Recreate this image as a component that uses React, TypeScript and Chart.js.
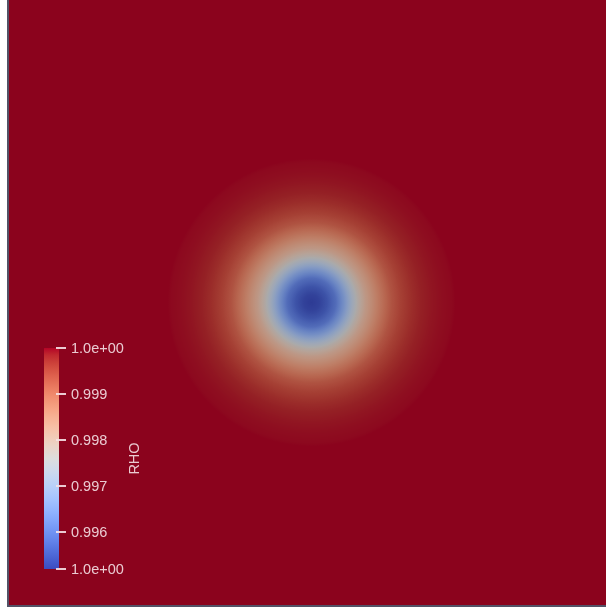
import React, { useEffect, useRef } from "react";
import { Chart, registerables } from "chart.js";

Chart.register(...registerables);

// ---- Data ----
const vortexCenterX = 0.5;
const vortexCenterY = 0.5;
// radial distance from vortex centre (domain units) and density there
const profileRadius = [0, 0.013, 0.026, 0.04, 0.053, 0.066, 0.076, 0.089, 0.103, 0.116, 0.132, 0.149, 0.166, 0.182, 0.199, 0.215, 0.232, 0.238];
const profileRho = [0.9952, 0.9953, 0.99554, 0.99592, 0.99654, 0.99722, 0.9977, 0.99818, 0.99856, 0.9989, 0.99928, 0.99954, 0.99972, 0.99984, 0.9999, 0.99994, 0.99997, 1.0];
const rhoMin = 0.9952;
const rhoMax = 1.0;
const colorbarTicks = [0.996, 0.997, 0.998, 0.999];
const colorbarTickLabels = ["0.996", "0.997", "0.998", "0.999"];
const colorbarMinLabel = "1.0e+00";
const colorbarMaxLabel = "1.0e+00";
const fieldName = "RHO";

// ---- Cool to Warm colour map ----
const coolWarm: number[][] = [
  [59, 76, 192], [68, 90, 204], [77, 104, 215], [87, 117, 225], [98, 130, 234],
  [108, 142, 241], [119, 154, 247], [130, 165, 251], [141, 176, 254], [152, 185, 255],
  [163, 194, 255], [174, 201, 253], [184, 208, 249], [194, 213, 244], [204, 217, 238],
  [213, 219, 230], [221, 221, 221], [229, 216, 209], [236, 211, 197], [241, 204, 185],
  [245, 196, 173], [247, 187, 160], [247, 177, 148], [247, 166, 135], [244, 154, 123],
  [241, 141, 111], [236, 127, 99], [229, 112, 88], [222, 96, 77], [213, 80, 66],
  [203, 62, 56], [192, 40, 47], [180, 4, 38],
];
const SHADE = 0.77;

function cmap(t: number, shade = 1): string {
  const tt = Math.max(0, Math.min(1, t)) * (coolWarm.length - 1);
  const i = Math.min(coolWarm.length - 2, Math.floor(tt));
  const f = tt - i;
  const a = coolWarm[i], b = coolWarm[i + 1];
  const c = [0, 1, 2].map((k) => Math.round((a[k] + (b[k] - a[k]) * f) * shade));
  return `rgb(${c[0]},${c[1]},${c[2]})`;
}

function rhoAt(r: number): number {
  if (r <= profileRadius[0]) return profileRho[0];
  for (let i = 1; i < profileRadius.length; i++) {
    if (r <= profileRadius[i]) {
      const f = (r - profileRadius[i - 1]) / (profileRadius[i] - profileRadius[i - 1]);
      return profileRho[i - 1] + (profileRho[i] - profileRho[i - 1]) * f;
    }
  }
  return profileRho[profileRho.length - 1];
}

const fieldPlugin = {
  id: "fieldPlugin",
  beforeDatasetsDraw(chart: any) {
    const { ctx, chartArea, scales } = chart;
    const xs = scales.x, ys = scales.y;
    ctx.save();
    // frame lines
    ctx.fillStyle = "#525266";
    ctx.fillRect(chartArea.left - 2, 0, 2, chartArea.bottom + 2);
    ctx.fillRect(chartArea.left - 2, chartArea.bottom, chartArea.right - chartArea.left + 2, 2);

    // field
    const cx = xs.getPixelForValue(vortexCenterX);
    const cy = ys.getPixelForValue(vortexCenterY);
    const rMaxVal = profileRadius[profileRadius.length - 1];
    const rOuter = xs.getPixelForValue(vortexCenterX + rMaxVal) - cx;
    const grad = ctx.createRadialGradient(cx, cy, 0, cx, cy, rOuter);
    const N = 240;
    for (let s = 0; s <= N; s++) {
      const fr = s / N;
      const rho = rhoAt(fr * rMaxVal);
      grad.addColorStop(fr, cmap((rho - rhoMin) / (rhoMax - rhoMin), SHADE));
    }
    ctx.fillStyle = grad;
    ctx.fillRect(chartArea.left, chartArea.top, chartArea.right - chartArea.left, chartArea.bottom - chartArea.top);

    // colour bar
    const barL = 44, barW = 15, barTop = 348, barBot = 569;
    const lg = ctx.createLinearGradient(0, barBot, 0, barTop);
    for (let i = 0; i < coolWarm.length; i++) {
      const t = i / (coolWarm.length - 1);
      lg.addColorStop(t, cmap(t));
    }
    ctx.fillStyle = lg;
    ctx.fillRect(barL, barTop, barW, barBot - barTop);

    const yFor = (v: number) => barBot - ((v - rhoMin) / (rhoMax - rhoMin)) * (barBot - barTop);
    const textColor = "rgba(245,225,230,0.9)";
    ctx.strokeStyle = textColor;
    ctx.fillStyle = textColor;
    ctx.lineWidth = 2;
    ctx.font = "14.5px 'Liberation Sans', Arial, sans-serif";
    ctx.textAlign = "left";
    ctx.textBaseline = "middle";
    const tickX0 = 56, tickX1 = 66, labelX = 71;
    const drawTick = (y: number, label: string) => {
      ctx.beginPath();
      ctx.moveTo(tickX0, y);
      ctx.lineTo(tickX1, y);
      ctx.stroke();
      ctx.fillText(label, labelX, y + 1);
    };
    drawTick(barTop, colorbarMaxLabel);
    drawTick(barBot, colorbarMinLabel);
    colorbarTicks.forEach((v, i) => drawTick(Math.round(yFor(v)), colorbarTickLabels[i]));

    // title
    ctx.save();
    ctx.translate(135, (barTop + barBot) / 2);
    ctx.rotate(-Math.PI / 2);
    ctx.textAlign = "center";
    ctx.fillText(fieldName, 0, 0);
    ctx.restore();

    ctx.restore();
  },
};

export default function App() {
  const ref = useRef<HTMLCanvasElement | null>(null);
  useEffect(() => {
    if (!ref.current) return;
    const chart = new Chart(ref.current, {
      type: "scatter",
      data: {
        datasets: [
          {
            data: [{ x: vortexCenterX, y: vortexCenterY }],
            pointRadius: 0,
            pointHoverRadius: 0,
          },
        ],
      },
      options: {
        animation: false,
        responsive: false,
        maintainAspectRatio: false,
        events: [],
        layout: { padding: { left: 9, top: 0, right: 0, bottom: 3 } },
        plugins: { legend: { display: false }, tooltip: { enabled: false } },
        scales: {
          x: { type: "linear", min: 0, max: 1, display: false },
          y: { type: "linear", min: 0, max: 1, display: false },
        },
      },
      plugins: [fieldPlugin],
    });
    return () => chart.destroy();
  }, []);
  return (
    <div style={{ position: "fixed", left: 0, top: 0, width: 606, height: 608, overflow: "hidden", background: "#fff" }}>
      <canvas ref={ref} width={614} height={608} style={{ position: "absolute", left: 0, top: 0, width: 614, height: 608 }} />
    </div>
  );
}
